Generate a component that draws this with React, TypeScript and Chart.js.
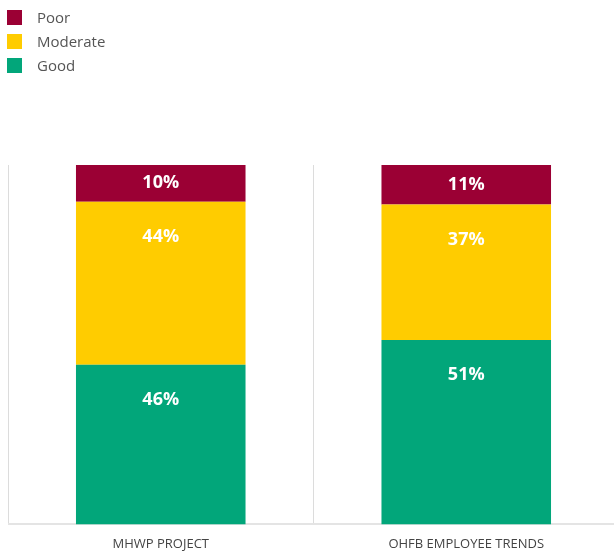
import React, { useEffect, useRef } from "react";
import { Chart, registerables } from "chart.js";

Chart.register(...registerables);

const categories = ["MHWP PROJECT", "OHFB EMPLOYEE TRENDS"];
const seriesNames = ["Poor", "Moderate", "Good"];
const seriesColors = ["#9B0034", "#FFCC00", "#02A67A"];
const poorValues = [10.2, 11.0];
const moderateValues = [45.4, 37.7];
const goodValues = [44.4, 51.3];
const poorLabels = ["10%", "11%"];
const moderateLabels = ["44%", "37%"];
const goodLabels = ["46%", "51%"];

const valueSets = [poorValues, moderateValues, goodValues];
const labelSets = [poorLabels, moderateLabels, goodLabels];

const segmentLabelPlugin = {
  id: "segmentLabels",
  afterDatasetsDraw(chart: any) {
    const ctx = chart.ctx;
    ctx.save();
    ctx.fillStyle = "#ffffff";
    ctx.font = "700 18px 'Open Sans'";
    ctx.textAlign = "center";
    ctx.textBaseline = "middle";
    chart.data.datasets.forEach((ds: any, di: number) => {
      const meta = chart.getDatasetMeta(di);
      meta.data.forEach((el: any, i: number) => {
        const top = Math.min(el.y, el.base);
        const h = Math.abs(el.base - el.y);
        const cy = top + Math.min(h / 2, 35);
        ctx.fillText(ds.segmentLabels[i], el.x, cy);
      });
    });
    ctx.restore();
  },
};

export default function App() {
  const ref = useRef<HTMLCanvasElement | null>(null);
  useEffect(() => {
    document.documentElement.style.overflow = "hidden";
    if (!ref.current) return;
    // stack bottom-up: Good, Moderate, Poor
    const order = [2, 1, 0];
    const chart = new Chart(ref.current, {
      type: "bar",
      data: {
        labels: categories,
        datasets: order.map((k) => ({
          label: seriesNames[k],
          data: valueSets[k],
          backgroundColor: seriesColors[k],
          borderWidth: 0,
          categoryPercentage: 1,
          barPercentage: 0.555,
          segmentLabels: labelSets[k],
        })) as any,
      },
      options: {
        animation: false,
        responsive: false,
        maintainAspectRatio: false,
        layout: { padding: { top: 157, left: 0, right: 0, bottom: 0 } },
        plugins: {
          legend: { display: false },
          tooltip: { enabled: false },
        },
        scales: {
          x: {
            stacked: true,
            grid: { display: true, color: "#dcdcdc", lineWidth: 1, drawTicks: false },
            border: { display: true, color: "#e4e4e4", width: 2 },
            ticks: {
              color: "#444444",
              font: { family: "'Open Sans'", size: 13 },
              padding: 12,
            },
          },
          y: {
            stacked: true,
            display: false,
            min: 0,
            max: 100,
          },
        },
      },
      plugins: [segmentLabelPlugin],
    });
    return () => chart.destroy();
  }, []);

  return (
    <div style={{ position: "fixed", left: 0, top: 0, width: 614, height: 552, overflow: "hidden", background: "#ffffff" }}>
      <canvas ref={ref} width={611} height={556} style={{ display: "block", position: "absolute", left: 8, top: 8 }} />
      <div style={{ position: "absolute", left: 7, top: 5, fontFamily: "'Open Sans'", fontSize: 15, color: "#555555" }}>
        {seriesNames.map((name, k) => (
          <div key={name} style={{ display: "flex", alignItems: "center", height: 24 }}>
            <span style={{ display: "inline-block", width: 15, height: 15, background: seriesColors[k], marginRight: 15 }} />
            <span>{name}</span>
          </div>
        ))}
      </div>
    </div>
  );
}
